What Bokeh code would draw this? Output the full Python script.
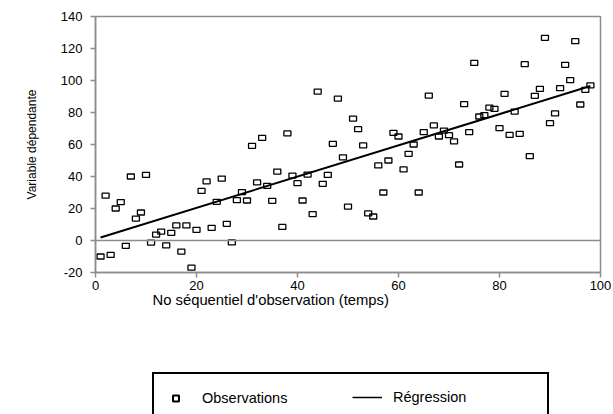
from bokeh.plotting import figure
from bokeh.layouts import column
from bokeh.models import Range1d, FixedTicker, Span, Legend, LegendItem, Title
from bokeh.embed import file_html
from bokeh.resources import INLINE

# Observation index (time) and measured dependent variable
x_obs = list(range(1, 99))
y_obs = [
    -10, 28, -9, 20, 24, -3.3, 40, 13.7, 17.5, 41,
    -1.3, 3.7, 5.6, -3.1, 4.8, 9.4, -6.9, 9.4, -17, 6.7,
    31, 37, 7.9, 24.2, 38.7, 10.4, -1.2, 25.2, 30.2, 25,
    59.2, 36.3, 64.2, 34.2, 24.8, 43.1, 8.5, 66.9, 40.6, 35.8,
    25, 41.2, 16.5, 93.1, 35.4, 41, 60.4, 88.7, 52, 21.2,
    76.2, 69.6, 59.4, 16.9, 15, 46.9, 30, 50, 67.3, 65,
    44.4, 54.2, 60, 30, 67.7, 90.6, 71.9, 65, 68.7, 65.8,
    61.9, 47.5, 85.2, 67.7, 111, 77.5, 78.3, 83.1, 82.3, 70.2,
    91.7, 66, 80.6, 66.7, 110.2, 52.7, 90.4, 94.8, 126.7, 73.3,
    79.4, 95.2, 109.8, 100.2, 124.6, 85, 94.2, 96.9,
]

# Regression coefficients (intercept, slope)
reg_intercept = 0.9
reg_slope = 0.976

x_ticks = [0, 20, 40, 60, 80, 100]
y_ticks = [-20, 0, 20, 40, 60, 80, 100, 120, 140]
y_tick_labels = ["-20", "0", "20", "40", "60", "80", "100", "120", "140"]

x_fit = [x_obs[0], x_obs[-1]]
y_fit = [reg_intercept + reg_slope * v for v in x_fit]

FONT = "Liberation Sans"
GREY = "#8c8c8c"

# ---- main scatter chart ----
p = figure(
    width=613, height=372,
    x_range=Range1d(0, 100), y_range=Range1d(-20, 140),
    output_backend="svg", toolbar_location=None,
    min_border_left=95, min_border_right=13,
    min_border_top=16, min_border_bottom=100,
)
p.xgrid.visible = False
p.ygrid.visible = False
p.outline_line_color = GREY
p.outline_line_width = 1.5
p.background_fill_color = "white"
p.border_fill_color = "white"

for ax in (p.xaxis, p.yaxis):
    ax.axis_line_color = GREY
    ax.axis_line_width = 1.5
    ax.major_tick_line_color = GREY
    ax.major_tick_line_width = 1.5
    ax.major_tick_in = 0
    ax.major_tick_out = 5
    ax.minor_tick_line_color = None
    ax.major_label_text_font = FONT
    ax.major_label_text_font_size = "13px"
    ax.major_label_text_color = "black"

p.xaxis.ticker = FixedTicker(ticks=x_ticks)
p.yaxis.ticker = FixedTicker(ticks=y_ticks)
p.yaxis.major_label_overrides = {t: s for t, s in zip(y_ticks, y_tick_labels)}
p.xaxis.major_label_standoff = 3
p.yaxis.major_label_standoff = 8

p.yaxis.axis_label = "Variable dépendante"
p.yaxis.axis_label_text_font = FONT
p.yaxis.axis_label_text_font_size = "12px"
p.yaxis.axis_label_text_font_style = "normal"
p.yaxis.axis_label_text_color = "black"
p.yaxis.axis_label_standoff = 19

# zero reference line
p.add_layout(Span(location=0, dimension="width", line_color=GREY, line_width=1.5))

p.rect(x_obs, y_obs, width=7, height=5, width_units="screen", height_units="screen",
       fill_color=None, line_color="black", line_width=1.3)
p.line(x_fit, y_fit, line_color="black", line_width=2)

p.add_layout(Title(text="No séquentiel d'observation (temps)", align="left", offset=57,
                   text_font=FONT, text_font_size="14.8px", text_font_style="normal",
                   text_color="black", standoff=-6), "below")

# ---- legend strip underneath (same horizontal borders as the chart) ----
leg = figure(
    width=613, height=42,
    x_range=Range1d(0, 100), y_range=Range1d(-20, 140),
    output_backend="svg", toolbar_location=None,
    x_axis_location=None, y_axis_location=None,
    min_border_left=95, min_border_right=13,
    min_border_top=0, min_border_bottom=0,
)
leg.xgrid.visible = False
leg.ygrid.visible = False
leg.outline_line_color = None
leg.background_fill_color = "white"
leg.border_fill_color = "white"

# legend keys only: hidden renderers carrying the same styling
key_obs = leg.scatter(x=x_obs[:1], y=y_obs[:1], marker="square", size=6, fill_color=None,
                      line_color="black", line_width=2, visible=False)
key_fit = leg.line(x=x_fit, y=y_fit, line_color="black", line_width=1.5, visible=False)

label_style = dict(label_text_font=FONT, label_text_font_size="14.5px",
                   label_text_color="black", inactive_fill_alpha=0.0, margin=0)

# boxed legend carrying the observation key; its wide label area spans the whole box
legend_box = Legend(
    items=[LegendItem(label="Observations", renderers=[key_obs])],
    orientation="horizontal", location=(57, -10),
    padding=14, glyph_width=15, glyph_height=20, label_height=20,
    label_width=331, label_standoff=19,
    border_line_color="black", border_line_width=2, border_line_alpha=1.0,
    background_fill_color="white", background_fill_alpha=1.0,
    **label_style,
)
# regression key sitting inside the same box
legend_line = Legend(
    items=[LegendItem(label="Régression", renderers=[key_fit])],
    orientation="horizontal", location=(257, 7),
    padding=0, glyph_width=30, glyph_height=20, label_height=20,
    label_standoff=11,
    border_line_color=None, background_fill_alpha=0.0,
    **label_style,
)
leg.add_layout(legend_box)
leg.add_layout(legend_line)

open("out.html", "w").write(file_html(column(p, leg, spacing=0), INLINE))
